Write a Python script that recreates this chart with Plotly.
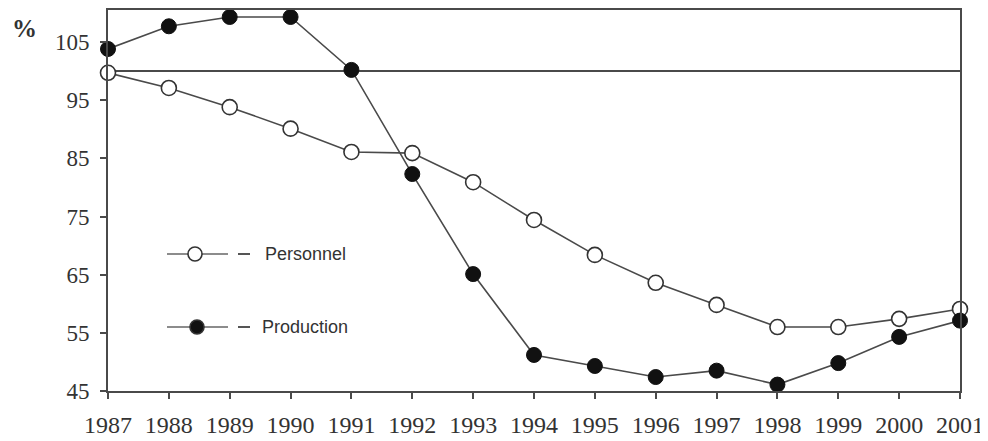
import plotly.graph_objects as go

years = list(range(1987, 2002))
personnel = [99.7, 97.1, 93.8, 90.1, 86.1, 85.9, 80.9, 74.4, 68.4, 63.6, 59.8, 56.0, 56.0, 57.4, 59.1]
production = [103.8, 107.7, 109.3, 109.3, 100.2, 82.3, 65.1, 51.2, 49.3, 47.4, 48.5, 46.1, 49.8, 54.3, 57.1]
ytick_vals = [45, 55, 65, 75, 85, 95, 105]
ref_level = 100
legend_labels = ["Personnel", "Production"]

LINE = "#4a4a4a"
TXT = "#333333"
SERIF = "Liberation Serif, Times New Roman, serif"
SANS = "Liberation Sans, Arial, sans-serif"

# page body has an 8px margin; the figure is sized to compensate
OFF = 8
PL, PT, PR, PB = 108, 10, 960, 391  # plot area in window pixels

fig = go.Figure()

fig.add_shape(type="line", xref="paper", x0=0, x1=1, yref="y", y0=ref_level, y1=ref_level,
              line=dict(color=LINE, width=2), layer="below")

fig.add_trace(go.Scatter(
    x=years, y=personnel, mode="lines+markers", name=legend_labels[0],
    line=dict(color=LINE, width=1.6),
    marker=dict(symbol="circle", size=15, color="white", line=dict(color="#333", width=1.6)),
    cliponaxis=False, showlegend=False))
fig.add_trace(go.Scatter(
    x=years, y=production, mode="lines+markers", name=legend_labels[1],
    line=dict(color=LINE, width=1.6),
    marker=dict(symbol="circle", size=15, color="#111", line=dict(color="#111", width=1)),
    cliponaxis=False, showlegend=False))

def px_x(px):
    return (px - PL) / (PR - PL)

def px_y(py):
    return (PB - py) / (PB - PT)

leg = [(legend_labels[0], 254, 195, 263, "white"), (legend_labels[1], 327, 197, 260, "#111")]
for label, py, mx, tx, fill in leg:
    yy = px_y(py)
    fig.add_shape(type="line", xref="paper", yref="paper", x0=px_x(167), x1=px_x(228), y0=yy, y1=yy,
                  line=dict(color="#666", width=1.6))
    fig.add_shape(type="line", xref="paper", yref="paper", x0=px_x(238), x1=px_x(250), y0=yy, y1=yy,
                  line=dict(color="#555", width=2))
    fig.add_shape(type="circle", xref="paper", yref="paper", xsizemode="pixel", ysizemode="pixel",
                  xanchor=px_x(mx), yanchor=yy, x0=-7, x1=7, y0=-7, y1=7,
                  fillcolor=fill, line=dict(color="#333", width=1.6))
    fig.add_annotation(xref="paper", yref="paper", x=px_x(tx), y=yy, text=label, showarrow=False,
                       xanchor="left", yanchor="middle", font=dict(family=SANS, size=18, color=TXT))

fig.add_annotation(xref="paper", yref="paper", x=px_x(24), y=px_y(29), text="%", showarrow=False,
                   xanchor="center", yanchor="middle",
                   font=dict(family=SERIF, size=25, color=TXT, weight="bold"))

fig.update_xaxes(range=[1987, 2001], tickvals=years, ticktext=[str(y) for y in years],
                 showgrid=False, zeroline=False, showline=True, linecolor=LINE, linewidth=2,
                 mirror=True, ticks="outside", ticklen=6, tickcolor=LINE, tickwidth=1.5,
                 ticklabelstandoff=5,
                 tickfont=dict(family=SERIF, size=24, color=TXT))
fig.update_yaxes(range=[45, 110.5], tickvals=ytick_vals,
                 showgrid=False, zeroline=False, showline=True, linecolor=LINE, linewidth=2,
                 mirror=True, ticks="outside", ticklen=6, tickcolor=LINE, tickwidth=1.5,
                 ticklabelstandoff=6,
                 tickfont=dict(family=SERIF, size=23, color=TXT))

W, H = 988 - OFF, 441 - OFF
fig.update_layout(width=W, height=H,
                  margin=dict(l=PL - OFF, r=988 - PR, t=PT - OFF, b=441 - PB, autoexpand=False),
                  plot_bgcolor="white", paper_bgcolor="white", showlegend=False)

fig.write_html("out.html")
